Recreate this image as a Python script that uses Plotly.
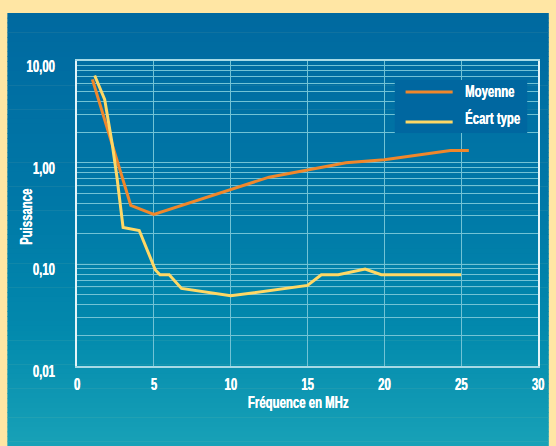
import plotly.graph_objects as go

# Frequency (MHz) and power values for each series
freq_moyenne = [1.0, 2.0, 3.5, 5.0, 12.5, 17.5, 20.0, 24.3, 25.5]
moyenne = [6.6, 2.1, 0.38, 0.31, 0.72, 1.0, 1.07, 1.32, 1.32]

freq_ecart = [1.15, 1.8, 2.3, 2.6, 3.0, 4.05, 5.1, 5.4, 6.0, 6.8, 10.0,
              15.0, 15.9, 17.0, 18.75, 19.8, 25.0]
ecart_type = [7.2, 4.2, 1.5, 0.72, 0.23, 0.215, 0.088, 0.079, 0.079, 0.058,
              0.049, 0.062, 0.079, 0.079, 0.09, 0.079, 0.079]

series_names = ["Moyenne", "Écart type"]

x_ticks = [0, 5, 10, 15, 20, 25, 30]
y_major = [0.01, 0.1, 1, 10]
y_major_text = ["0,01", "0,10", "1,00", "10,00"]

W, H = 556, 446
L, R, T, B = 77, 9, 61, 80
PW, PH = W - L - R, H - T - B

FONT = "Liberation Sans, Arial, sans-serif"
FS = 17
ORANGE = "#F0872B"
YELLOW = "#FFD865"
GRID = "#72C3D5"
LEGEND_BG = "#0067A0"


def px_x(p):
    return (p - L) / PW


def px_y(p):
    return 1 - (p - T) / PH


def bold(size=FS):
    return dict(family=FONT, size=size, color="white", weight="bold",
                shadow="0.5px 0 0 white")


# y gridlines: every digit of each decade, labels only on decades
y_vals, y_text = [], []
for d in [0.01, 0.1, 1]:
    for k in range(1, 10):
        v = round(d * k, 6)
        y_vals.append(v)
        y_text.append(y_major_text[y_major.index(d)] if k == 1 else "")
y_vals.append(10)
y_text.append("10,00")

# vertical colour gradient for the panel background
stops = [(13, (0, 105, 160)), (200, (0, 120, 167)), (330, (2, 137, 173)), (446, (24, 162, 183))]


def grad(y):
    for (y0, c0), (y1, c1) in zip(stops[:-1], stops[1:]):
        if y0 <= y <= y1:
            t = (y - y0) / (y1 - y0)
            return "rgb(%d,%d,%d)" % tuple(round(a + (b - a) * t) for a, b in zip(c0, c1))
    return "rgb(%d,%d,%d)" % stops[-1][1]


shapes = []
top, bottom, n = 13, 446, 90
step = (bottom - top) / n
for i in range(n):
    y0 = top + i * step
    y1 = y0 + step + 0.6
    shapes.append(dict(type="rect", xref="paper", yref="paper", layer="below",
                       x0=px_x(6), x1=px_x(W + 2), y0=px_y(y1), y1=px_y(y0),
                       line=dict(width=0), fillcolor=grad(y0 + step / 2)))

# legend panel with line samples
shapes.append(dict(type="rect", xref="paper", yref="paper", layer="above",
                   x0=px_x(401), x1=px_x(536), y0=px_y(133), y1=px_y(80),
                   line=dict(width=0), fillcolor=LEGEND_BG))
legend_rows = [(92, ORANGE), (122, YELLOW)]
annotations = []
for (ry, col), name in zip(legend_rows, series_names):
    shapes.append(dict(type="line", xref="paper", yref="paper", layer="above",
                       x0=px_x(412), x1=px_x(460), y0=px_y(ry), y1=px_y(ry),
                       line=dict(color=col, width=3)))
for ty, name in zip([91, 118], series_names):
    annotations.append(dict(text=name, x=px_x(471), y=px_y(ty), xref="paper", yref="paper",
                            showarrow=False, xanchor="left", yanchor="middle", align="left",
                            font=bold()))

annotations += [
    dict(text="Fréquence en MHz", x=px_x(302), y=px_y(402), xref="paper", yref="paper",
         showarrow=False, xanchor="center", yanchor="middle", font=bold()),
    dict(text="Puissance", x=px_x(25), y=px_y(217), xref="paper", yref="paper",
         showarrow=False, xanchor="center", yanchor="middle", textangle=-90, font=bold()),
]

fig = go.Figure()
fig.add_trace(go.Scatter(x=freq_moyenne, y=moyenne, mode="lines", name=series_names[0],
                         line=dict(color=ORANGE, width=3)))
fig.add_trace(go.Scatter(x=freq_ecart, y=ecart_type, mode="lines", name=series_names[1],
                         line=dict(color=YELLOW, width=3)))

fig.update_layout(
    width=W, height=H,
    margin=dict(l=L, r=R, t=T, b=B),
    paper_bgcolor="#FFE6A4",
    plot_bgcolor="rgba(0,0,0,0)",
    shapes=shapes,
    annotations=annotations,
    font=bold(),
    showlegend=False,
    xaxis=dict(range=[0, 30], tickvals=x_ticks, showgrid=True, gridcolor=GRID,
               gridwidth=1, zeroline=False, showline=True, linecolor="#A6DAE6",
               linewidth=1.5, mirror=True, ticks="", ticklabelstandoff=2,
               tickfont=bold()),
    yaxis=dict(type="log", range=[-2, 1], tickvals=y_vals, ticktext=y_text,
               showgrid=True, gridcolor=GRID, gridwidth=1, zeroline=False,
               showline=True, linecolor="#E4F4F8", linewidth=1.5, mirror=True,
               ticks="", ticklabelstandoff=17, ticklabelshift=5,
               tickfont=bold()),
)

# condensed lettering: squeeze each label horizontally
condense = """
var gd = document.getElementById('{plot_id}');
var items = gd.querySelectorAll('g.xtick text, g.ytick text, text.annotation-text');
items.forEach(function (t) {
  var w = t.getComputedTextLength();
  if (w > 0) {
    t.setAttribute('textLength', (w * 0.67).toFixed(2));
    t.setAttribute('lengthAdjust', 'spacingAndGlyphs');
  }
});
"""

fig.write_html("out.html", post_script=condense)
